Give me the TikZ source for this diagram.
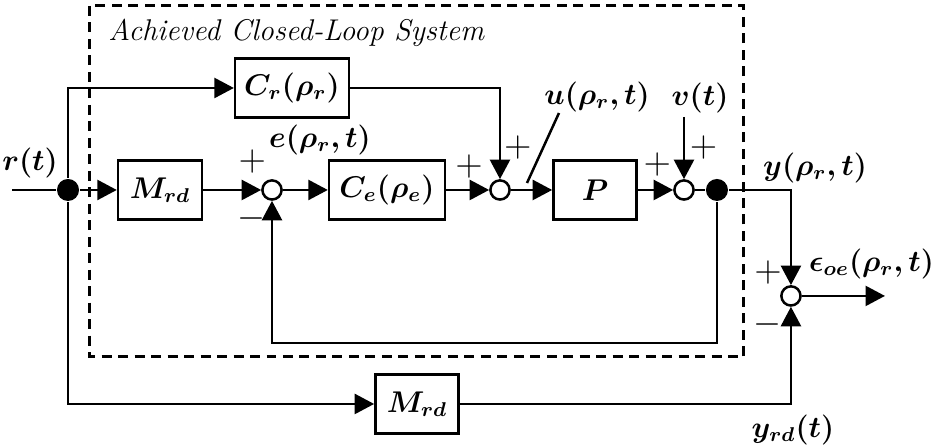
\documentclass[tikz,border=0pt]{standalone}
\usepackage{amsmath, amssymb}
\usepackage{bm}
\usepackage{tikz}
\usetikzlibrary{arrows.meta, positioning, calc}

\begin{document}
\begin{tikzpicture}[>={Triangle[length=7.8pt, width=8pt]}, line width=1pt, on grid, font=\large,
            blk/.style={draw, rectangle, minimum height=0.83cm, inner sep=1pt},
            sum/.style={draw, circle, fill=white, inner sep=0pt, minimum size=0.27cm},
            dot/.style={circle, fill, inner sep=0pt, minimum size=0.31cm},
            sysbox/.style={dash pattern=on 4pt off 2.6pt, line width=1.2pt},
            sgn/.style={anchor=center, inner sep=0pt, font=\Large}]

            \useasboundingbox (-0.957,-3.616) rectangle (12.241,2.673);

            % main row
            \node[dot] (d1) at (0,0) {};
            \node[blk, minimum width=1.18cm, right=1.294cm of d1] (Mrd) {$\bm{M_{rd}}$};
            \node[sum, right=1.576cm of Mrd,
                  label={[sgn, label distance=0.33cm]125:$+$},
                  label={[sgn, label distance=0.35cm]234:$-$}] (s1) {};
            \node[blk, minimum width=1.63cm, right=1.618cm of s1] (Ce) {$\bm{C_e(\rho_e)}$};
            \node[sum, right=1.590cm of Ce,
                  label={[sgn, label distance=0.39cm]143:$+$},
                  label={[sgn, label distance=0.49cm]67:$+$}] (s2) {};
            \node[blk, minimum width=1.17cm, right=1.337cm of s2] (P) {$\bm{P}$};
            \node[sum, right=1.252cm of P,
                  label={[sgn, label distance=0.37cm]136:$+$},
                  label={[sgn, label distance=0.50cm]65:$+$}] (s3) {};
            \node[dot, right=0.464cm of s3] (d2) {};

            % reference branch and output comparison
            \node[blk, minimum width=1.60cm, above right=1.435cm and 0.281cm of s1] (Cr) {$\bm{C_r(\rho_r)}$};
            \node[sum, below right=1.491cm and 1.041cm of d2,
                  label={[sgn, label distance=0.31cm]134:$+$},
                  label={[sgn, label distance=0.37cm]231:$-$}] (s4) {};
            \node[blk, minimum width=1.17cm, below right=3.011cm and 3.616cm of Mrd] (Mrd2) {$\bm{M_{rd}}$};

            \coordinate[left=0.788cm of d1] (in);
            \coordinate[right=1.323cm of s4] (out);
            \coordinate[above=1.027cm of s3] (vin);
            \coordinate[below=2.153cm of d2] (fb);
            \coordinate (ua) at ($(s2)+(0.830,1.083)$);
            \coordinate (ub) at ($(s2)+(0.380,0.098)$);

            % dashed system box
            \draw[sysbox] ($(d1)+(0.309,2.589)$) rectangle ($(d2)+(0.380,-2.350)$);
            \node[anchor=west, inner sep=0pt] (title) at ($(d1)+(0.549,2.209)$) {\textit{Achieved Closed-Loop System}};

            % signals
            \draw (in) -- (d1);
            \draw[->] (d1) -- (Mrd);
            \draw[->] (Mrd) -- (s1);
            \draw[->] (s1) -- (Ce);
            \draw[->] (Ce) -- (s2);
            \draw[->] (s2) -- (P);
            \draw[->] (P) -- (s3);
            \draw (s3) -- (d2);
            \draw[->] (d1) |- (Cr);
            \draw[->] (Cr) -| (s2);
            \draw[->] (vin) -- (s3);
            \draw[->] (d2) -- (fb) -| (s1);
            \draw[->] (d2) -| (s4);
            \draw[->] (d1) |- (Mrd2);
            \draw[->] (Mrd2) -| (s4);
            \draw[->] (s4) -- (out);
            \draw (ua) -- (ub);

            % labels
            \node (rlab) at ($(d1)+(-0.535,0.380)$) {$\bm{r(t)}$};
            \node (elab) at ($(s1)+(0.675,0.703)$) {$\bm{e(\rho_r,t)}$};
            \node (ulab) at ($(P)+(0.028,1.309)$) {$\bm{u(\rho_r,t)}$};
            \node (vlab) at ($(s3)+(0.225,1.294)$) {$\bm{v(t)}$};
            \node[anchor=west, inner sep=0pt] (ylab) at ($(d2)+(0.633,0.31)$) {$\bm{y(\rho_r,t)}$};
            \node[anchor=west, inner sep=0pt] (eplab) at ($(s4)+(0.239,0.45)$) {$\bm{\epsilon_{oe}(\rho_r,t)}$};
            \node (yrdlab) at ($(s4)+(0.028,-1.885)$) {$\bm{y_{rd}(t)}$};
        \end{tikzpicture}
\end{document}
